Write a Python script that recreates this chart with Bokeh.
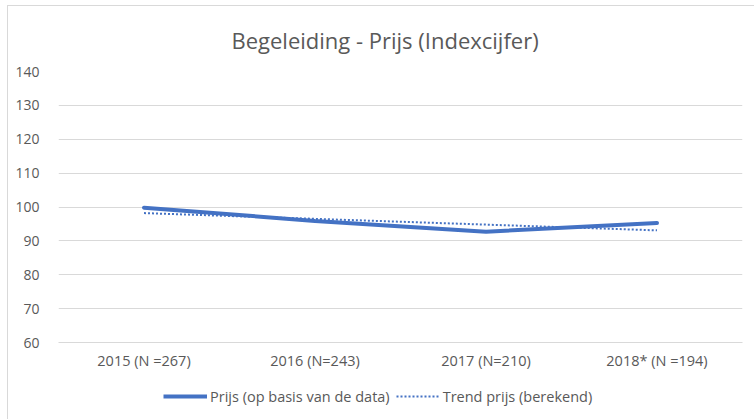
from bokeh.plotting import figure
from bokeh.layouts import column
from bokeh.models import Range1d, FactorRange, Legend, LegendItem
from bokeh.embed import file_html
from bokeh.resources import INLINE

categories = ["2015 (N =267)", "2016 (N=243)", "2017 (N=210)", "2018* (N =194)"]
prijs = [99.8, 95.9, 92.7, 95.3]
trend = [98.2, 96.5, 94.8, 93.1]
y_ticks = [60, 70, 80, 90, 100, 110, 120, 130, 140]
legend_labels = ["Prijs (op basis van de data)", "Trend prijs (berekend)"]

FONT = "Open Sans"
GREY = "#595959"
BLUE = "#4472C4"

p = figure(frame_width=684, frame_height=271, x_range=FactorRange(*categories), y_range=Range1d(60, 140),
           output_backend="svg", toolbar_location=None,
           min_border_left=50, min_border_right=12, min_border_top=63, min_border_bottom=32)

p.title.text = "Begeleiding - Prijs (Indexcijfer)"
p.title.align = "left"
p.title.offset = 173
p.title.text_font = FONT
p.title.text_font_size = "22px"
p.title.text_font_style = "normal"
p.title.text_color = GREY
p.title.standoff = 33

p.line(categories, prijs, line_color=BLUE, line_width=4, line_cap="round")
p.line(categories, trend, line_color=BLUE, line_width=2, line_dash="2 2")

p.yaxis.ticker = y_ticks
p.yaxis.axis_line_color = None
p.yaxis.major_tick_line_color = None
p.yaxis.minor_tick_line_color = None
p.yaxis.major_label_text_font = FONT
p.yaxis.major_label_text_font_size = "14px"
p.yaxis.major_label_text_color = GREY
p.yaxis.major_label_standoff = 13

p.xaxis.axis_line_color = "#d9d9d9"
p.xaxis.major_tick_line_color = None
p.xaxis.minor_tick_line_color = None
p.xaxis.major_label_text_font = FONT
p.xaxis.major_label_text_font_size = "14.5px"
p.xaxis.major_label_text_color = GREY
p.xaxis.major_label_standoff = 2

p.xgrid.grid_line_color = None
p.ygrid.grid_line_color = "#d9d9d9"
p.ygrid.grid_line_width = 1
p.outline_line_color = None

# legend strip (its lines lie outside its y range, so only the legend shows)
lg = figure(width=746, height=46, x_range=FactorRange(*categories), y_range=Range1d(0, 1),
            output_backend="svg", toolbar_location=None, x_axis_type=None, y_axis_type=None,
            min_border_left=0, min_border_right=0, min_border_top=0, min_border_bottom=0)
lg.grid.visible = False
lg.outline_line_color = None
d1 = lg.line(categories, prijs, line_color=BLUE, line_width=4)
d2 = lg.line(categories, trend, line_color=BLUE, line_width=2, line_dash="2 2")
legend = Legend(items=[LegendItem(label=legend_labels[0], renderers=[d1]),
                       LegendItem(label=legend_labels[1], renderers=[d2])],
                orientation="horizontal", location=(105, 14),
                label_text_font=FONT, label_text_font_size="14.5px", label_text_color=GREY,
                glyph_width=44, spacing=6, label_standoff=3, border_line_color=None,
                background_fill_alpha=0, padding=0, margin=0)
lg.add_layout(legend, "center")

layout = column(p, lg, spacing=0,
                styles={"border-left": "1px solid #d9d9d9", "border-top": "1px solid #d9d9d9",
                        "margin-left": "7px", "margin-top": "5px"})

open("out.html", "w").write(file_html(layout, INLINE))
